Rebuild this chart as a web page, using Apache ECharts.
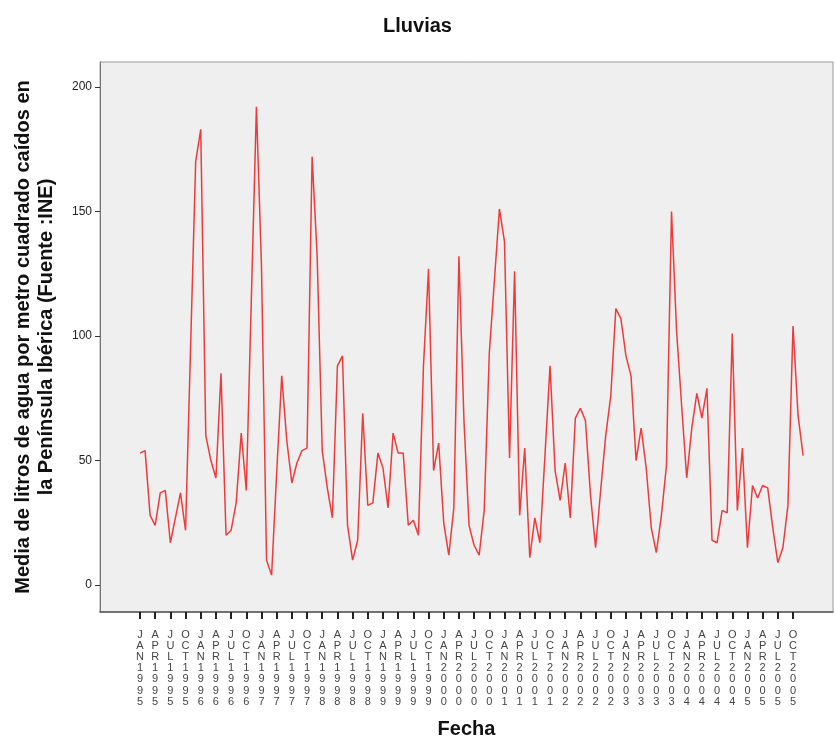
<!DOCTYPE html>
<html>
<head>
<meta charset="utf-8">
<script src="https://cdn.jsdelivr.net/npm/echarts@6/dist/echarts.min.js"></script>
<style>html,body{margin:0;padding:0;background:#fff}#c{width:835px;height:736px}</style>
</head>
<body>
<div id="c"></div>
<script>
const months = ['JAN','FEB','MAR','APR','MAY','JUN','JUL','AUG','SEP','OCT','NOV','DEC'];
const years = [1995,1996,1997,1998,1999,2000,2001,2002,2003,2004,2005];
const v1995 = [53,54,28,24,37,38,17,27,37,22,96,170];
const v1996 = [183,60,50,43,85,20,22,33,61,38,115,192];
const v1997 = [128,10,4,45,84,58,41,49,54,55,172,132];
const v1998 = [54,39,27,88,92,24,10,18,69,32,33,53];
const v1999 = [47,31,61,53,53,24,26,20,88,127,46,57];
const v2000 = [25,12,31,132,66,24,16,12,30,93,122,151];
const v2001 = [138,51,126,28,55,11,27,17,52,88,46,34];
const v2002 = [49,27,67,71,66,36,15,38,60,76,111,107];
const v2003 = [92,84,50,63,47,23,13,28,48,150,102,72];
const v2004 = [43,63,77,67,79,18,17,30,29,101,30,55];
const v2005 = [15,40,35,40,39,23,9,15,32,104,68,52];
const yTicks = [0,50,100,150,200];

const categories = [];
years.forEach(y => months.forEach(m => categories.push(m + ' ' + y)));
const values = [].concat(v1995,v1996,v1997,v1998,v1999,v2000,v2001,v2002,v2003,v2004,v2005);
const seriesData = values.map((v,i) => [i, v]);
const xTickIdx = categories.map((c,i) => i).filter(i => i % 3 === 0);

const FONT = 'Liberation Sans';
const chart = echarts.init(document.getElementById('c'), null, {renderer:'canvas'});
chart.setOption({
  animation: false,
  backgroundColor: '#ffffff',
  title: {
    text: 'Lluvias', left: 'center', top: 11,
    textStyle: {fontFamily: FONT, fontSize: 20, fontWeight: 'bold', color: '#111'}
  },
  grid: {
    left: 100, right: 2, top: 62, bottom: 124,
    outerBoundsMode: 'none', containLabel: false,
    show: true, backgroundColor: '#EFEFEF', borderColor: '#9a9a9a', borderWidth: 1
  },
  xAxis: {
    type: 'value', min: -7.9, max: 136.9,
    name: 'Fecha', nameLocation: 'middle', nameGap: 107,
    nameTextStyle: {fontFamily: FONT, fontSize: 20, fontWeight: 'bold', color: '#111'},
    splitLine: {show: false},
    axisLine: {show: true, onZero: false, lineStyle: {color: '#555', width: 1.5}},
    axisTick: {show: true, length: 7, customValues: xTickIdx, lineStyle: {color: '#222', width: 2}},
    axisLabel: {
      customValues: xTickIdx, margin: 17,
      fontFamily: FONT, fontSize: 11, lineHeight: 11.2, color: '#444',
      formatter: v => {
        const c = categories[Math.round(v)];
        return c ? c.replace(' ', '').split('').join('\n') : '';
      }
    }
  },
  yAxis: {
    type: 'value', min: -10.8, max: 210,
    name: 'Media de litros de agua por metro cuadrado caídos en\nla Península Ibérica (Fuente :INE)',
    nameLocation: 'middle', nameRotate: 90, nameGap: 42,
    nameTextStyle: {fontFamily: FONT, fontSize: 20, fontWeight: 'bold', color: '#111', lineHeight: 23},
    splitLine: {show: false},
    axisLine: {show: true, onZero: false, lineStyle: {color: '#777', width: 1}},
    axisTick: {show: true, length: 5, customValues: yTicks, lineStyle: {color: '#333'}},
    axisLabel: {customValues: yTicks, margin: 8, fontFamily: FONT, fontSize: 12, color: '#222'}
  },
  series: [{
    type: 'line', data: seriesData, symbol: 'none',
    lineStyle: {color: '#F03A3A', width: 1.5}
  }]
});
</script>
</body>
</html>
